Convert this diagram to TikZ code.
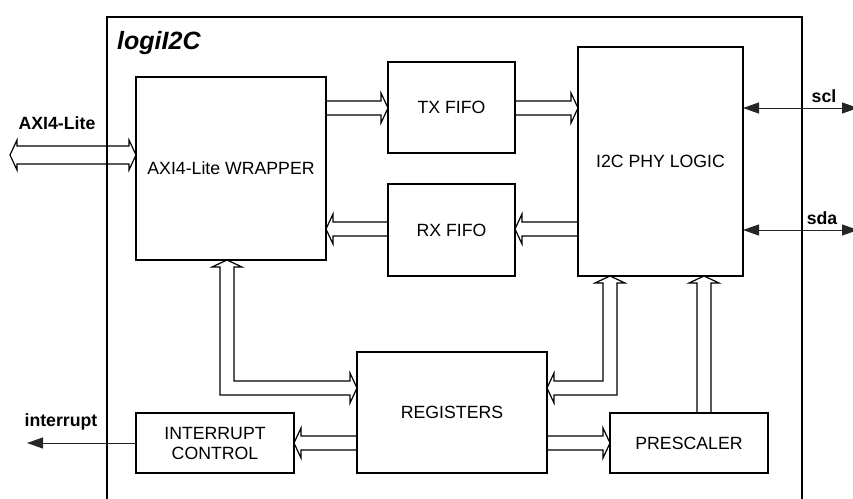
\documentclass[tikz,border=0pt]{standalone}
\usepackage{fontspec}
\setmainfont{Liberation Sans}
\usetikzlibrary{arrows.meta,calc}
\newcommand\arrRight[3]{%
\draw[blk] let \p1=(#1), \p2=(#2) in
 (\x1,7pt-#3pt) -- (\x2-7pt,7pt-#3pt) -- (\x2-7pt,15pt-#3pt) -- (\x2,-#3pt) -- (\x2-7pt,-15pt-#3pt) -- (\x2-7pt,-7pt-#3pt) -- (\x1,-7pt-#3pt);}
\newcommand\arrLeft[3]{%
\draw[blk] let \p1=(#1), \p2=(#2) in
 (\x1,7pt-#3pt) -- (\x2+7pt,7pt-#3pt) -- (\x2+7pt,15pt-#3pt) -- (\x2,-#3pt) -- (\x2+7pt,-15pt-#3pt) -- (\x2+7pt,-7pt-#3pt) -- (\x1,-7pt-#3pt);}
\newcommand\arrUp[3]{%
\draw[blk] let \p1=(#1), \p2=(#2) in
 (#3pt-7pt,\y1) -- (#3pt-7pt,\y2-7pt) -- (#3pt-15pt,\y2-7pt) -- (#3pt,\y2) -- (#3pt+15pt,\y2-7pt) -- (#3pt+7pt,\y2-7pt) -- (#3pt+7pt,\y1);}
\begin{document}
\begin{tikzpicture}[x=1pt,y=-1pt,
  box/.style={draw, line width=1.2pt, inner sep=0pt, outer sep=0pt, anchor=north west,
    font=\fontsize{17.7pt}{20pt}\selectfont, align=center},
  blk/.style={draw, line width=1.2pt, line join=miter},
  sig/.style={draw=black!85, line width=1pt},
  lab/.style={anchor=base, inner sep=0pt, font=\fontsize{17.7pt}{20pt}\selectfont\bfseries}]
\useasboundingbox (0,0) rectangle (853,498);
\clip (0,0) rectangle (853,498);
% outer frame
\draw[line width=2pt] (107,510) -- (107,17) -- (802,17) -- (802,510);
\node[anchor=west, inner sep=0pt, font=\fontsize{25pt}{30pt}\selectfont\bfseries\itshape] (title) at (117,43) {logiI2C};
% blocks
\node[box, minimum width=190pt, minimum height=183pt] (wrap) at (136,77) {AXI4-Lite WRAPPER};
\node[box, minimum width=127pt, minimum height=91pt] (tx) at (388,62) {TX FIFO};
\node[box, minimum width=127pt, minimum height=92pt] (rx) at (388,184) {RX FIFO};
\node[box, minimum width=165pt, minimum height=229pt] (phy) at (578,47) {I2C PHY LOGIC};
\node[box, minimum width=190pt, minimum height=121pt] (reg) at (357,352) {REGISTERS};
\node[box, minimum width=158pt, minimum height=60pt] (pre) at (610,413) {PRESCALER};
\node[box, minimum width=158pt, minimum height=60pt] (irq) at (136,413) {INTERRUPT\\CONTROL};
% block arrows
\arrRight{wrap.east}{tx.west}{108}
\arrRight{tx.east}{phy.west}{108}
\arrLeft{phy.west}{rx.east}{229}
\arrLeft{rx.west}{wrap.east}{229}
\arrRight{reg.east}{pre.west}{443}
\arrLeft{reg.west}{irq.east}{443}
\arrUp{pre.north}{phy.south}{704}
% AXI4-Lite external double arrow
\coordinate (axiL) at (10,155);
\draw[blk] let \p1=(axiL), \p2=(wrap.west |- axiL) in
 (\x1,\y1) -- (\x1+7pt,\y1+15pt) -- (\x1+7pt,\y1+9pt) -- (\x2-7pt,\y1+9pt) -- (\x2-7pt,\y1+15pt)
 -- (\x2,\y1) -- (\x2-7pt,\y1-15pt) -- (\x2-7pt,\y1-9pt) -- (\x1+7pt,\y1-9pt) -- (\x1+7pt,\y1-15pt) -- cycle;
% wrapper <-> registers
\draw[blk] let \p1=(wrap.south), \p2=(reg.west) in
 (227pt,\y1) -- (242pt,\y1-7pt) -- (234pt,\y1-7pt) -- (234pt,-381pt) -- (\x2-7pt,-381pt) -- (\x2-7pt,-373pt)
 -- (\x2,-388pt) -- (\x2-7pt,-403pt) -- (\x2-7pt,-395pt) -- (220pt,-395pt) -- (220pt,\y1-7pt) -- (212pt,\y1-7pt) -- cycle;
% registers <-> phy
\draw[blk] let \p1=(phy.south), \p2=(reg.east) in
 (610pt,\y1) -- (625pt,\y1-7pt) -- (617pt,\y1-7pt) -- (617pt,-395pt) -- (\x2+7pt,-395pt) -- (\x2+7pt,-403pt)
 -- (\x2,-388pt) -- (\x2+7pt,-373pt) -- (\x2+7pt,-381pt) -- (603pt,-381pt) -- (603pt,\y1-7pt) -- (595pt,\y1-7pt) -- cycle;
% signals
\coordinate (irqOut) at (27,443);
\coordinate (sclEnd) at (858,108);
\coordinate (sdaEnd) at (858,230);
\draw[sig, -{Triangle[length=16pt,width=11pt]}] (irq.west) -- (irqOut);
\draw[sig, {Triangle[length=16pt,width=11pt]}-{Triangle[length=16pt,width=11pt]}] (phy.east |- sclEnd) -- (sclEnd);
\draw[sig, {Triangle[length=16pt,width=11pt]}-{Triangle[length=16pt,width=11pt]}] (phy.east |- sdaEnd) -- (sdaEnd);
% labels
\node[lab] (axilab) at (57,129) {AXI4-Lite};
\node[lab] (irqlab) at (61,426) {interrupt};
\node[lab] (scllab) at (824,102) {scl};
\node[lab] (sdalab) at (822,224) {sda};
\end{tikzpicture}
\end{document}
